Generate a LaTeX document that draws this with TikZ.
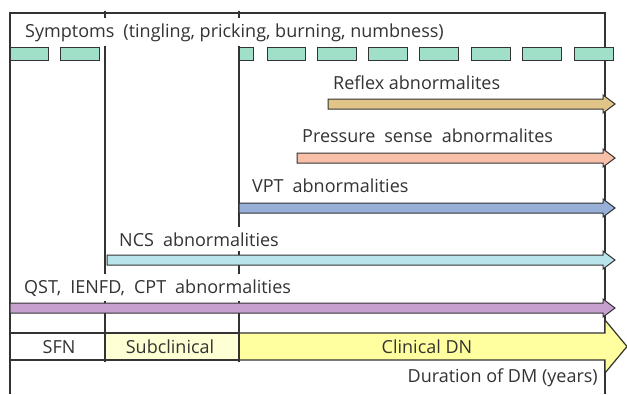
\documentclass[tikz,border=0pt]{standalone}
\usepackage{fontspec}
\setmainfont{Open Sans}
\definecolor{ink}{HTML}{333333}
\definecolor{mint}{HTML}{A0E0C8}
\definecolor{tan}{HTML}{E0C488}
\definecolor{salmon}{HTML}{F8C0A8}
\definecolor{steel}{HTML}{98B0D8}
\definecolor{cyanl}{HTML}{B8E4EC}
\definecolor{lav}{HTML}{C8A0D0}
\definecolor{ylight}{HTML}{FFFFD4}
\definecolor{yclin}{HTML}{FFFFA0}
\newcommand\wsp{\hspace{0.5em}}
\newcommand\lblfont{\fontsize{18}{20}\selectfont}
\tikzset{
  frame/.style={draw=ink, line width=1.2pt},
  lbl/.style={anchor=base west, fill=white, inner xsep=3pt, inner ysep=5pt, text=ink, font=\lblfont},
  plain/.style={anchor=base, inner sep=0pt, text=ink, font=\lblfont},
  barrow/.style={draw=ink, line width=1pt},
  dashbox/.style={draw=ink, line width=1pt, fill=mint},
}
\begin{document}
\begin{tikzpicture}[x=1pt,y=-1pt]
\useasboundingbox (0,0) rectangle (627,394);
% frame
\draw[frame] (10,394) -- (10,13) -- (605,13) -- (605,394);
\draw[frame] (105,11) -- (105,362);
\draw[frame] (239,11) -- (239,362);
% labels (white background hides the lines)
\node[lbl] (sym) at (22,37) {Symptoms\wsp(tingling, pricking, burning, numbness)};
\node[lbl] (ref) at (330,89) {Reflex abnormalites};
\node[lbl] (pre) at (299,142) {Pressure\wsp sense\wsp abnormalites};
\node[lbl] (vpt) at (249,192) {VPT\wsp abnormalities};
\node[lbl] (ncs) at (116,246) {NCS\wsp abnormalities};
\node[lbl] (qst) at (21,293) {QST,\wsp IENFD,\wsp CPT\wsp abnormalities};
% dashed symptom bar
\foreach \a/\b in {10/48,60/99,239/253,267/305,317/356,368/407,419/458,471/510,522/561,574/613}
  \draw[dashbox] (\a,47) rectangle (\b,60);
% block arrows
\foreach \x/\t/\c in {328/99/tan,297/153/salmon,239/203/steel,107/255/cyanl,10/303/lav}
  \draw[barrow, fill=\c] (\x,\t) -- (603,\t) -- (603,\t-4) -- (615,\t+5) -- (603,\t+14) -- (603,\t+10) -- (\x,\t+10) -- cycle;
% bottom stage row
\draw[frame, fill=white] (10,333) rectangle (105,360);
\draw[frame, fill=ylight] (105,333) rectangle (239,360);
\draw[frame, fill=yclin] (239,333) -- (605,333) -- (605,320) -- (627,346.5) -- (605,373) -- (605,360) -- (239,360) -- cycle;
\draw[frame] (105,313) -- (105,362);
\draw[frame] (239,313) -- (239,362);
\node[plain] (sfn) at (59,353) {SFN};
\node[plain] (sub) at (170,353) {Subclinical};
\node[plain] (cdn) at (427,353) {Clinical DN};
\node[anchor=base east, inner sep=0pt, text=ink, font=\lblfont] (dur) at (598,382) {Duration of DM (years)};
\end{tikzpicture}
\end{document}
